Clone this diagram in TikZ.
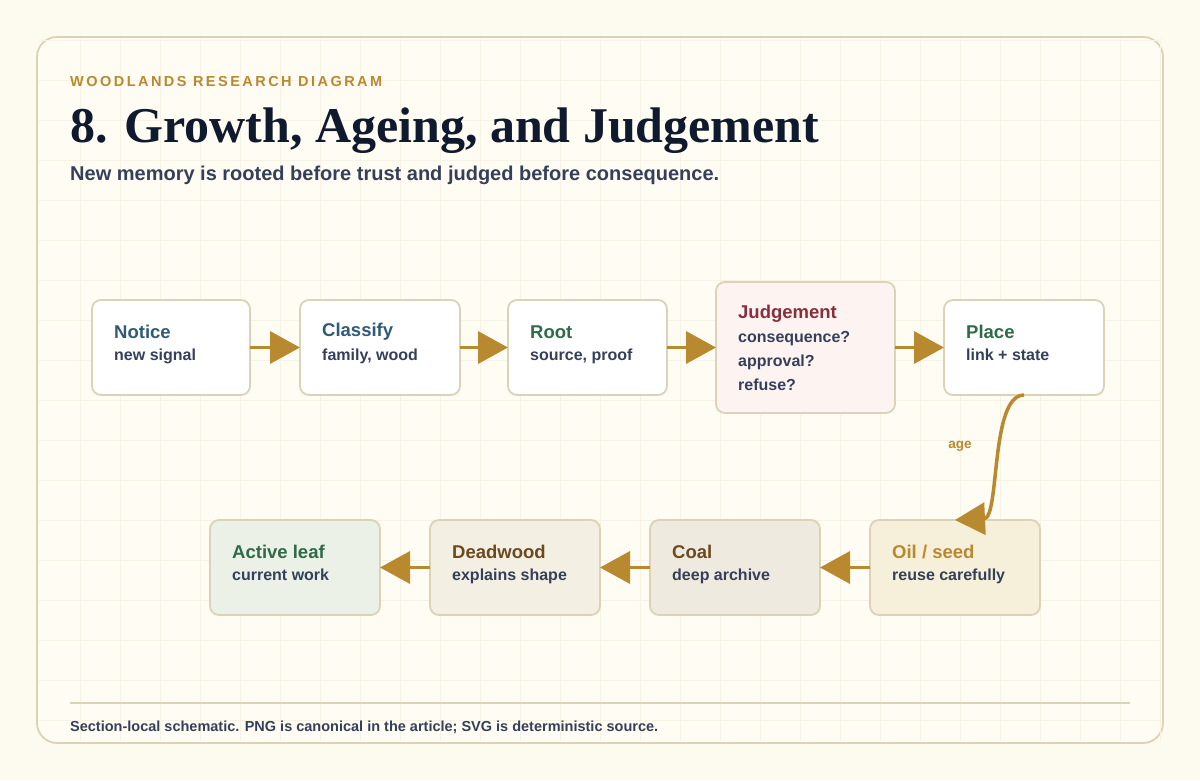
\documentclass[tikz,border=0pt]{standalone}
\usepackage{fontspec}
\setmainfont{Liberation Sans}
\newfontfamily\serifb{Liberation Serif}
\usetikzlibrary{arrows.meta}
\definecolor{bg}{HTML}{FDFAF0}
\definecolor{card}{HTML}{FFFCF4}
\definecolor{frame}{HTML}{DCD2B8}
\definecolor{gold}{HTML}{B8892F}
\definecolor{navy}{HTML}{0F1A2E}
\definecolor{sub}{HTML}{34405A}
\definecolor{blu}{HTML}{2F5A7A}
\definecolor{grn}{HTML}{2F6B48}
\definecolor{red}{HTML}{8A2E3E}
\definecolor{brn}{HTML}{6B4A1F}
\definecolor{gridc}{HTML}{F7F2E4}
\definecolor{fj}{HTML}{FDF4F1}
\definecolor{fa}{HTML}{EBF1E7}
\definecolor{fd}{HTML}{F4EFE3}
\definecolor{fk}{HTML}{EFEADF}
\definecolor{fo}{HTML}{F6EFDA}
\begin{document}
\begin{tikzpicture}[x=1pt,y=-1pt,
 box/.style={draw=frame,line width=1.8pt,rounded corners=9pt},
 hd/.style={anchor=west,font=\fontsize{18.5}{20}\selectfont\bfseries},
 bd/.style={anchor=west,font=\fontsize{16}{24}\selectfont\bfseries,text=sub,align=left,inner sep=0pt},
 arr/.style={draw=gold,line width=3.5pt,-{Triangle[length=30pt,width=32pt]}}]
\fill[bg] (0,0) rectangle (1200,780);
\useasboundingbox (0,0) rectangle (1200,780);
\draw[box,fill=card,rounded corners=20pt] (37,37) rectangle (1163,743);
\begin{scope}
\clip (39,39) rectangle (1161,741);
\foreach \x in {80,120,...,1160} \draw[gridc,line width=0.6pt] (\x,39)--(\x,741);
\foreach \y in {40,80,...,740} \draw[gridc,line width=0.6pt] (39,\y)--(1161,\y);
\end{scope}
\node[anchor=west,text=gold,font=\fontsize{14.5}{16}\selectfont\bfseries,inner sep=0pt] (kick) at (70,82) {\addfontfeatures{LetterSpace=17}WOODLANDS RESEARCH DIAGRAM};
\node[anchor=west,text=navy,font=\serifb\fontsize{50}{54}\selectfont\bfseries,inner sep=0pt] (title) at (70,131) {8. Growth, Ageing, and Judgement};
\node[anchor=west,text=sub,font=\fontsize{20}{22}\selectfont\bfseries,inner sep=0pt] (subt) at (70,175) {New memory is rooted before trust and judged before consequence.};
\newcommand\card[9]{% name x1 y1 x2 y2 fill color title body
 \draw[box,fill=#6] (#2,#3) rectangle (#4,#5);
 \coordinate (#1W) at (#2,{(#3+#5)/2}); \coordinate (#1E) at (#4,{(#3+#5)/2});
 \node[hd,text=#7,inner sep=0pt] (#1t) at ({#2+22},{#3+32}) {#8};
 \node[bd,anchor=north west] (#1b) at ({#2+22},{#3+49}) {#9};}
\card{n}{92}{300}{250}{395}{white}{blu}{Notice}{new signal}
\card{c}{300}{300}{460}{395}{white}{blu}{Classify}{family, wood}
\card{r}{508}{300}{667}{395}{white}{grn}{Root}{source, proof}
\card{j}{716}{282}{895}{413}{fj}{red}{Judgement}{consequence?\\approval?\\refuse?}
\card{p}{944}{300}{1104}{395}{white}{grn}{Place}{link + state}
\card{a}{210}{520}{380}{615}{fa}{grn}{Active leaf}{current work}
\card{d}{430}{520}{600}{615}{fd}{brn}{Deadwood}{explains shape}
\card{k}{650}{520}{820}{615}{fk}{brn}{Coal}{deep archive}
\card{o}{870}{520}{1040}{615}{fo}{gold}{Oil / seed}{reuse carefully}
\draw[arr] (nE)--(cW);
\draw[arr] (cE)--(rW);
\draw[arr] (rE)--(jW |- rE);
\draw[arr] (jE |- pW)--(pW);
\draw[arr] (oW)--(kE);
\draw[arr] (kW)--(dE);
\draw[arr] (dW)--(aE);
\coordinate (ps) at (1024,395);
\coordinate (oe) at (955,520);
\draw[arr] (ps) .. controls (990,395) and (1000,518) .. (oe);
\node[text=gold,font=\fontsize{13.5}{15}\selectfont\bfseries] (age) at (960,446) {age};
\draw[frame,line width=1.5pt] (70,703) -- (1130,703);
\node[anchor=west,text=sub,font=\fontsize{14.5}{16}\selectfont\bfseries,inner sep=0pt] (foot) at (70,727) {Section-local schematic. PNG is canonical in the article; SVG is deterministic source.};
\end{tikzpicture}
\end{document}
